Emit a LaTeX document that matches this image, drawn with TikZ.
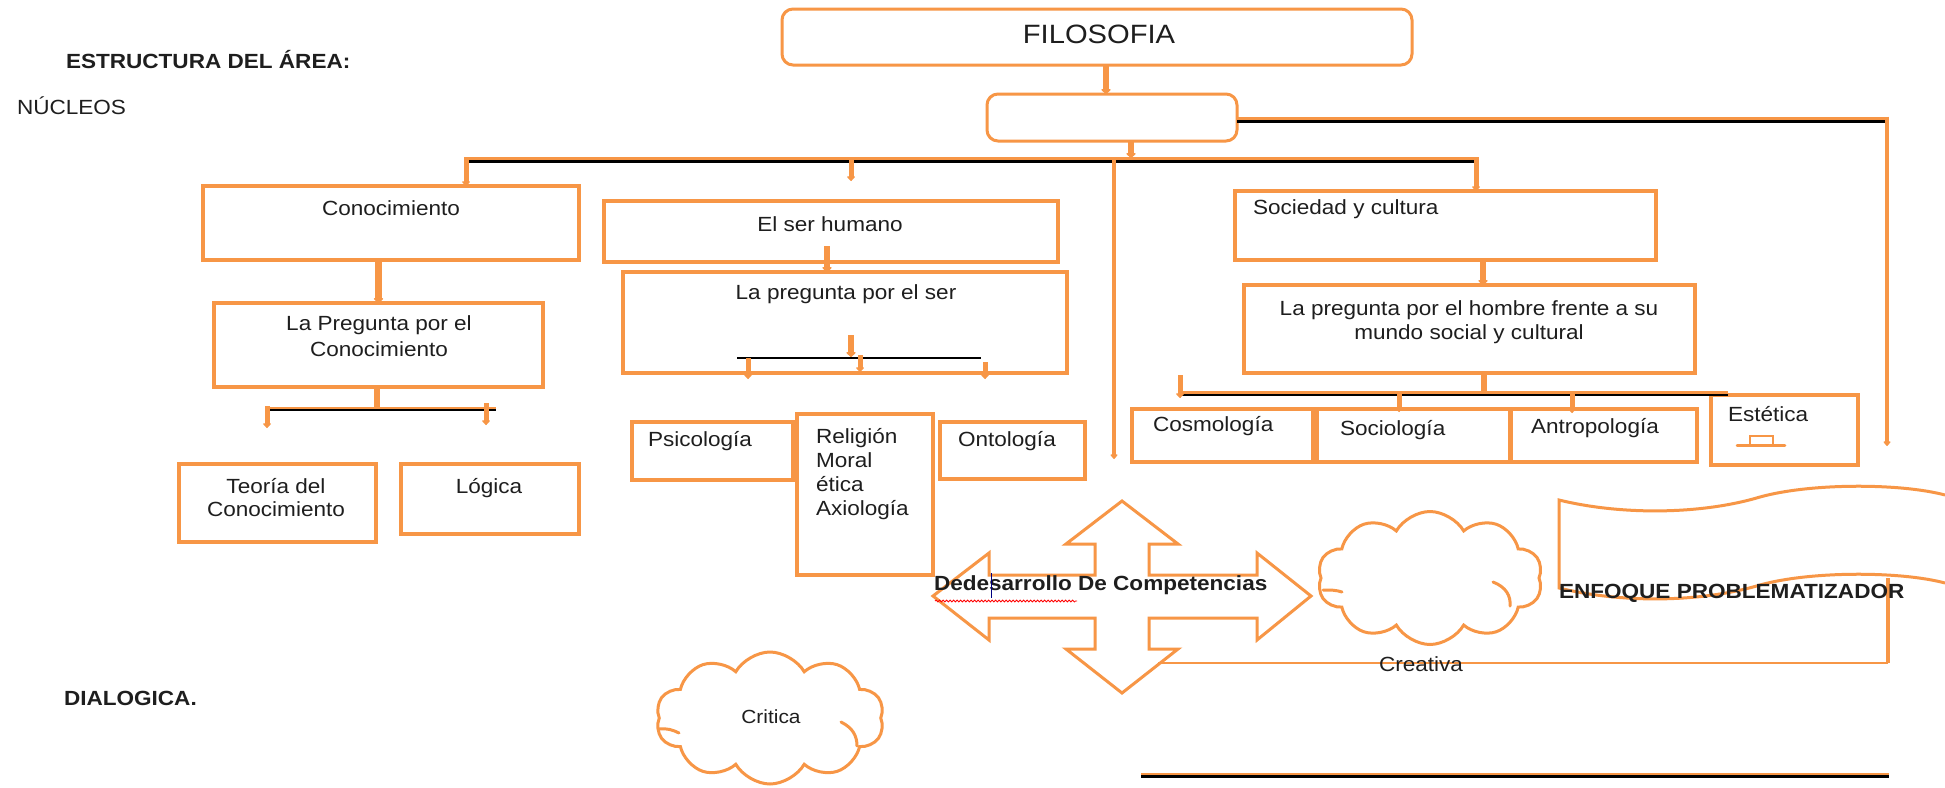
\documentclass[tikz,border=0pt]{standalone}
\usepackage{fontspec}
\setmainfont{Liberation Sans}[FakeStretch=1.1]
\usetikzlibrary{arrows.meta,shapes.symbols,decorations.pathmorphing,calc}
\definecolor{org}{HTML}{F79646}
\definecolor{txt}{HTML}{1E1E1E}
\begin{document}
\begin{tikzpicture}[x=1pt,y=-1pt,
  every node/.style={inner sep=0pt, outer sep=0pt, text=txt, font=\fontsize{20.5}{24}\selectfont},
  bold/.style={font=\fontsize{20.5}{24}\selectfont\bfseries},
  box/.style={draw=org, line width=3.2pt, anchor=north west},
  rbox/.style={box, line width=3pt, rounded corners=11pt},
  stem/.style={draw=org, line width=5pt, -{Triangle[width=9pt,length=5pt,round]}},
  bigstem/.style={draw=org, line width=6.5pt, -{Triangle[width=11pt,length=5pt,round]}},
  longv/.style={draw=org, line width=4.5pt, -{Triangle[width=8pt,length=5pt,round]}},
  orgtop/.style={draw=org, line width=3pt},
  blk/.style={draw=black, line width=3.5pt},
  thinblk/.style={draw=black, line width=2pt},
  puff/.style={cloud, draw=org, line width=3pt, cloud puffs=10, cloud puff arc=120, fill=white},
  inarc/.style={draw=org, line width=3pt, line cap=round}
]
\useasboundingbox (0,0) rectangle (1945,787);
\fill[white] (0,0) rectangle (1945,787);

% ---------- left texts
\node[bold, anchor=mid west] (estr) at (66,66) {ESTRUCTURA DEL ÁREA:};
\node[anchor=mid west] (nuc) at (17,112) {NÚCLEOS};
\node[bold, anchor=mid west] (dial) at (64,703) {DIALOGICA.};

% ---------- top boxes
\node[rbox, minimum width=630pt, minimum height=56pt] (filo) at (782,9) {};
\node[font=\fontsize{26.5}{30}\selectfont] (filot) at (1099,34) {FILOSOFIA};
\node[rbox, minimum width=250pt, minimum height=47pt] (b2) at (987,94) {};

% ---------- level boxes
\node[box, minimum width=376pt, minimum height=74pt] (con) at (203,186) {};
\node (cont) at (391,208) {Conocimiento};
\node[box, minimum width=454pt, minimum height=61pt] (ser) at (604,201) {};
\node (sert) at (830,224) {El ser humano};
\node[box, minimum width=421pt, minimum height=69pt] (soc) at (1235,191) {};
\node[anchor=mid west] (soct) at (1253,212) {Sociedad y cultura};

\node[box, minimum width=329pt, minimum height=84pt] (pcon) at (214,303) {};
\node[align=center, font=\fontsize{20.5}{26}\selectfont] (pcont) at (379,336) {La Pregunta por el\\Conocimiento};
\node[box, minimum width=444pt, minimum height=101pt] (pser) at (623,272) {};
\node (psert) at (846,294) {La pregunta por el ser};
\node[box, minimum width=451pt, minimum height=88pt] (phom) at (1244,285) {};
\node[align=center, font=\fontsize{20.5}{24}\selectfont] (phomt) at (1469,322) {La pregunta por el hombre frente a su\\mundo social y cultural};

% ---------- leaf boxes
\node[box, minimum width=197pt, minimum height=78pt] (teo) at (179,464) {};
\node[align=center, font=\fontsize{20.5}{23}\selectfont] (teot) at (276,498) {Teoría del\\Conocimiento};
\node[box, minimum width=178pt, minimum height=70pt] (log) at (401,464) {};
\node (logt) at (489,488) {Lógica};
\node[box, minimum width=161pt, minimum height=58pt] (psi) at (632,422) {};
\node[anchor=mid west] (psit) at (648,444) {Psicología};
\node[box, minimum width=136pt, minimum height=161pt] (rel) at (797,414) {};
\node[anchor=north west, align=left, font=\fontsize{20.5}{24}\selectfont] (relt) at (816,428) {Religión\\Moral\\ética\\Axiología};
\node[box, minimum width=145pt, minimum height=57pt] (ont) at (940,422) {};
\node[anchor=mid west] (ontt) at (958,444) {Ontología};
\node[box, minimum width=181pt, minimum height=53pt] (cos) at (1132,409) {};
\node[anchor=mid west] (cost) at (1153,429) {Cosmología};
\node[box, minimum width=193pt, minimum height=53pt] (socio) at (1317,409) {};
\node[anchor=mid west] (sociot) at (1340,433) {Sociología};
\node[box, minimum width=186pt, minimum height=53pt] (ant) at (1511,409) {};
\node[anchor=mid west] (antt) at (1531,431) {Antropología};
\node[box, minimum width=147pt, minimum height=70pt] (est) at (1711,395) {};
\node[anchor=mid west] (estt) at (1728,419) {Estética};
\draw[org, line width=2pt] (1750,444) -- (1750,436) -- (1773,436) -- (1773,444);
\draw[org, line width=2.5pt, line cap=round] (1737,445.5) -- (1785,445.5);

% ---------- connectors top
\draw[bigstem] (filo.south -| 1106,0) -- (b2.north -| 1106,0);
\draw[bigstem] (b2.south -| 1131,0) -- (1131,158);
% right line from b2
\coordinate (rA) at (1887,118);
\coordinate (rB) at (1887,446);
\draw[orgtop] (b2.east |- 0,118) -- (rA);
\draw[blk] (b2.east |- 0,121.5) -- (1885,121.5);
\draw[longv] ([yshift=1.5pt]rA) -- (rB);
% main bar
\coordinate (mL) at (466,158.5);
\coordinate (mR) at (1476,158.5);
\draw[orgtop] (mL) -- (mR);
\draw[blk] (466,161.5) -- (1474,161.5);
\draw[stem] ([yshift=1.5pt]mL) -- (con.north -| mL);
\draw[stem] (851,158) -- (851,181);
\draw[stem] ([yshift=1.5pt]mR) -- (soc.north -| mR);
\draw[longv] (1114,157) -- (1114,459);

% ---------- Conocimiento branch
\draw[bigstem] (pcon.north |- con.south) -- (pcon.north);
\coordinate (cL) at (265,407.5);
\coordinate (cR) at (496,407.5);
\draw[bigstem, -] (377,387) -- (377,407);
\draw[orgtop, line width=2pt] (cL) -- (cR);
\draw[thinblk, line width=2.5pt] (270,410) -- (cR |- 0,410);
\draw[stem] (267,406) -- (267,428);
\draw[stem] (486,403) -- (486,425);

% ---------- ser branch
\draw[bigstem] (827,246) -- (pser.north -| 827,0);
\draw[bigstem] (851,335) -- (851,357);
\draw[thinblk] (737,358) -- (981,358);
\draw[stem] (748,358) -- (748,379);
\draw[stem] (860,355) -- (860,372);
\draw[stem] (985,362) -- (985,379);

% ---------- sociedad branch
\draw[bigstem] (soc.south -| 1483,0) -- (phom.north -| 1483,0);
\draw[bigstem, -] (1484,373) -- (1484,393);
\coordinate (sL) at (1180,392.5);
\coordinate (sR) at (1728,392.5);
\draw[orgtop] (sL) -- (sR);
\draw[thinblk, line width=2.5pt] (1182,395) -- (sR |- 0,395);
\draw[stem] (1180,375) -- (1180,398);
\draw[stem] (1399,393) -- (1399,412);
\draw[stem] (1572,393) -- (1572,413);

% ---------- cross arrow
\draw[org, line width=3pt, fill=white, line join=miter]
  (1122,501) -- (1178,544) -- (1149,544) -- (1149,575) -- (1257,575) -- (1257,553)
  -- (1311,596) -- (1257,640) -- (1257,618) -- (1149,618) -- (1149,649) -- (1178,649)
  -- (1122,693) -- (1066,649) -- (1095,649) -- (1095,618) -- (989,618) -- (989,640)
  -- (933,596) -- (989,553) -- (989,575) -- (1095,575) -- (1095,544) -- (1066,544) -- cycle;
\node[bold, anchor=mid west] (comp) at (934,588) {Dedesarrollo De Competencias};
\draw[red, line width=0.8pt, decorate, decoration={snake, amplitude=1pt, segment length=3.5pt}] (935,601) -- (1077,601);
\draw[draw=blue!50!black, line width=1pt] (991,573) -- (991,598);

% ---------- wave shape and lines
\draw[org, line width=3pt]
  (1945,495) .. controls (1900,483) and (1810,483) .. (1760,497)
  .. controls (1700,515) and (1620,515) .. (1559,500)
  -- (1559,588)
  .. controls (1620,603) and (1700,603) .. (1760,585)
  .. controls (1810,571) and (1900,571) .. (1945,583);
\coordinate (wv) at (1888,578);
\coordinate (wc) at (1888,663);
\coordinate (wl) at (1158,663);
\draw[org, line width=4.5pt] (wv) -- (wc);
\draw[org, line width=2pt] (wc) -- (wl);
\node[bold, anchor=mid west] (enf) at (1559,596) {ENFOQUE PROBLEMATIZADOR};

% bottom line
\draw[orgtop, line width=2pt] (1141,773.5) -- (1889,773.5);
\draw[blk] (1141,776.5) -- (1889,776.5);

% ---------- clouds
\node[puff, minimum width=225pt, minimum height=133pt] (crea) at (1430,578) {};
\draw[inarc] ($(crea.center)+(63,4)$) .. controls +(13,5) and +(1,-10) .. ($(crea.center)+(80,28)$);
\draw[inarc] ($(crea.center)+(-107,12)$) .. controls +(8,0) and +(-6,-2) .. ($(crea.center)+(-88,14)$);
\node (creat) at (1421,664) {Creativa};
\node[puff, minimum width=228pt, minimum height=132pt] (crit) at (770,718) {};
\draw[inarc] ($(crit.center)+(71,4)$) .. controls +(12,6) and +(0,-10) .. ($(crit.center)+(87,28)$);
\draw[inarc] ($(crit.center)+(-111,11)$) .. controls +(8,-1) and +(-6,-3) .. ($(crit.center)+(-91,15)$);
\node[font=\fontsize{19}{22}\selectfont] (critt) at (771,717) {Critica};
\end{tikzpicture}
\end{document}
